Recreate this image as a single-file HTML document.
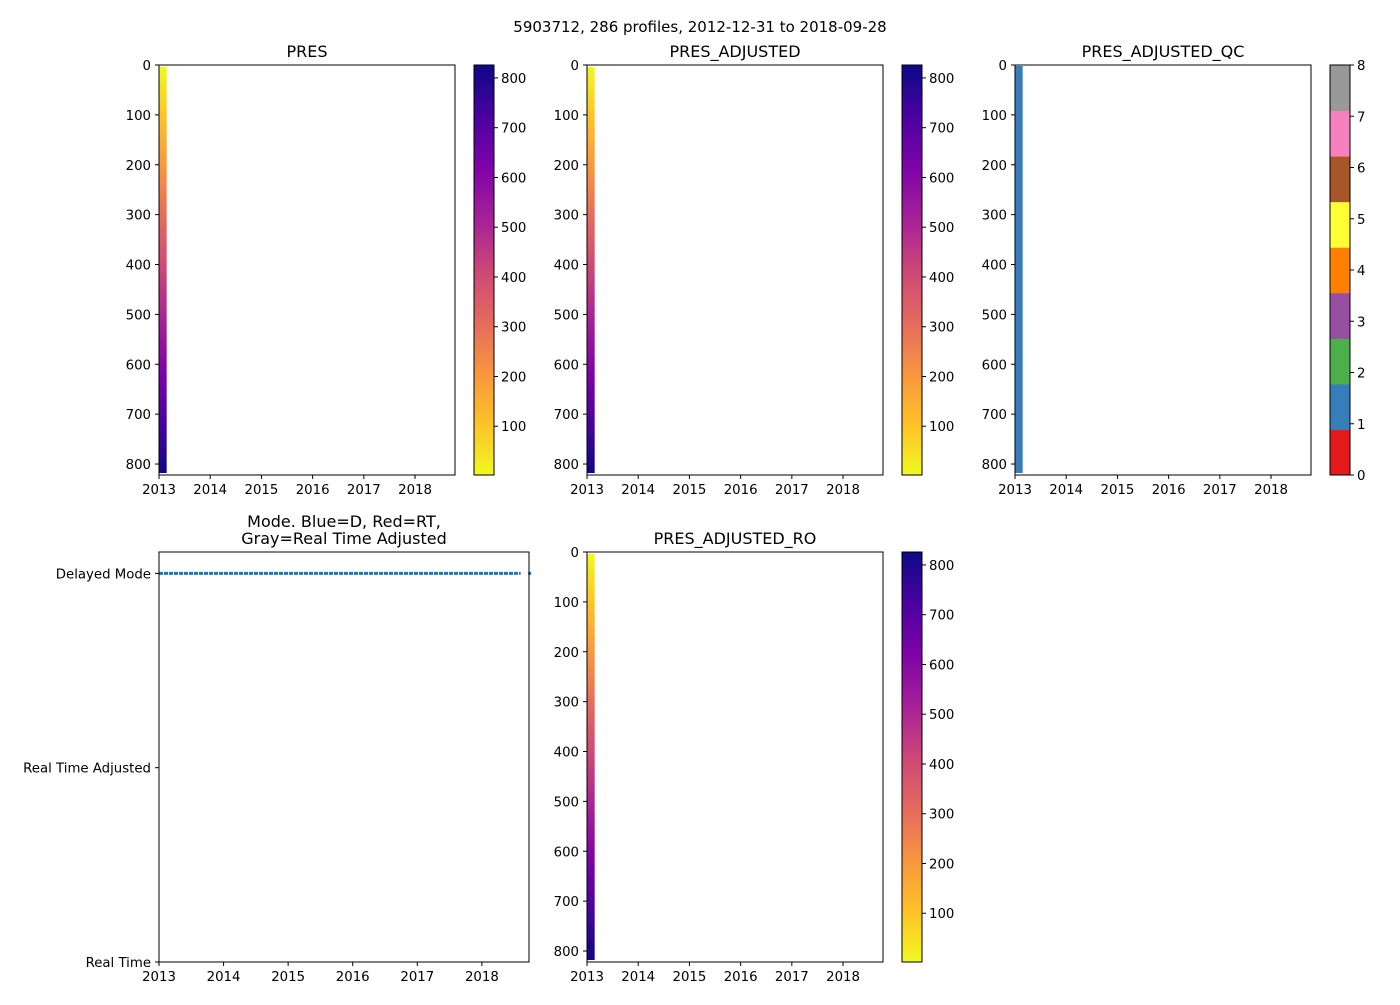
<!DOCTYPE html>
<html><head><meta charset="utf-8"><style>
body{margin:0;background:#fff;}
svg text{font-family:"DejaVu Sans","Liberation Sans",sans-serif;fill:#000;}
</style></head><body>
<svg id="fig" width="1400" height="1000" xmlns="http://www.w3.org/2000/svg">
<defs>
<linearGradient id="plasmaR" x1="0" y1="1" x2="0" y2="0">
<stop offset="0" stop-color="#f0f921"/><stop offset="0.12" stop-color="#fdc328"/>
<stop offset="0.25" stop-color="#f89540"/><stop offset="0.37" stop-color="#e56b5d"/>
<stop offset="0.5" stop-color="#cc4778"/><stop offset="0.62" stop-color="#a82296"/>
<stop offset="0.75" stop-color="#7e03a8"/><stop offset="0.87" stop-color="#4c02a1"/>
<stop offset="1" stop-color="#0d0887"/></linearGradient>
<linearGradient id="plasmaStrip" x1="0" y1="0" x2="0" y2="1">
<stop offset="0" stop-color="#f0f921"/><stop offset="0.12" stop-color="#fdc328"/>
<stop offset="0.25" stop-color="#f89540"/><stop offset="0.37" stop-color="#e56b5d"/>
<stop offset="0.5" stop-color="#cc4778"/><stop offset="0.62" stop-color="#a82296"/>
<stop offset="0.75" stop-color="#7e03a8"/><stop offset="0.87" stop-color="#4c02a1"/>
<stop offset="1" stop-color="#0d0887"/></linearGradient>
</defs>
<text x="700" y="32" font-size="15" text-anchor="middle">5903712, 286 profiles, 2012-12-31 to 2018-09-28</text>
<g id="root"></g>
</svg>
<script>
// data
const yearTicks = [2013, 2014, 2015, 2016, 2017, 2018];
const presTicks = [0, 100, 200, 300, 400, 500, 600, 700, 800];
const cbarTicks = [100, 200, 300, 400, 500, 600, 700, 800];
const qcTicks = [0, 1, 2, 3, 4, 5, 6, 7, 8];
const qcColors = ["#e41a1c", "#377eb8", "#4daf4a", "#984ea3", "#ff7f00", "#ffff33", "#a65628", "#f781bf", "#999999"];
const modeLabels = ["Real Time", "Real Time Adjusted", "Delayed Mode"];
const profileStart = [2013.0];
const profileEnd = [2013.15];
const profileMaxPres = [818];
const qcValue = [1];
const modeStartYear = [2013.0];
const modeEndYear = [2018.6];
const modeLastYear = [2018.74];
const modeValue = [2];

const NS = "http://www.w3.org/2000/svg";
const root = document.getElementById('root');
const TFS = 13.3;
function el(tag, attrs, parent, txt) {
  const e = document.createElementNS(NS, tag);
  for (const k in attrs) e.setAttribute(k, attrs[k]);
  if (txt !== undefined) e.textContent = txt;
  (parent || root).appendChild(e);
  return e;
}
const X0 = 2013, X1 = 2018.78, PMAX = 822;

function axesPanel(name, left, top, w, h) {
  const g = el('g', {});
  
  
  const xs = v => left + (v - X0) / (X1 - X0) * w;
  const ys = p => top + p / PMAX * h;
  return {g, xs, ys, left, top, w, h};
}
function drawFrame(P, yTicks, yfn, yLabelFn) {
  const {g, left, top, w, h, xs} = P;
  const fr = el('rect', {x: left, y: top, width: w, height: h, fill: 'none', stroke: '#000', 'stroke-width': 1}, g);
  
  
  yearTicks.forEach(t => {
    const x = xs(t);
    el('line', {x1: x, y1: top + h, x2: x, y2: top + h + 4, stroke: '#000'}, g);
    const tx = el('text', {x: x, y: top + h + 19, 'font-size': TFS, 'text-anchor': 'middle'}, g, String(t));
    
    
  });
  yTicks.forEach((t, i) => {
    const y = yfn(t);
    el('line', {x1: left - 4, y1: y, x2: left, y2: y, stroke: '#000'}, g);
    const tx = el('text', {x: left - 8, y: y + 5, 'font-size': TFS, 'text-anchor': 'end'}, g, yLabelFn ? yLabelFn(t, i) : String(t));
    
    
  });
}
function title(P, lines) {
  lines.forEach((s, i) => {
    const t = el('text', {x: P.left + P.w / 2, y: P.top - 8 - (lines.length - 1 - i) * 17, 'font-size': 16, 'text-anchor': 'middle'}, P.g, s);
    
    
  });
}
function colorbar(left, top, h) {
  const g = el('g', {});
  
  
  el('rect', {x: left, y: top, width: 20, height: h, fill: 'url(#plasmaR)', stroke: '#000'}, g);
  const vmin = 2, vmax = 826;
  cbarTicks.forEach(t => {
    const y = top + h - (t - vmin) / (vmax - vmin) * h;
    el('line', {x1: left + 20, y1: y, x2: left + 24, y2: y, stroke: '#000'}, g);
    const tx = el('text', {x: left + 27, y: y + 5, 'font-size': TFS}, g, String(t));
    
    
  });
}
function presPanel(name, left, top, ttl, cbLeft) {
  const P = axesPanel(name, left, top, 296, 410);
  profileStart.forEach((s, i) => {
    const r = el('rect', {x: P.xs(s), y: P.ys(4), width: P.xs(profileEnd[i]) - P.xs(s), height: P.ys(profileMaxPres[i]) - P.ys(4), fill: 'url(#plasmaStrip)'}, P.g);
    
    
  });
  drawFrame(P, presTicks, P.ys);
  title(P, [ttl]);
  if (cbLeft) colorbar(cbLeft, top, 410);
}
presPanel('pres', 159, 65, 'PRES', 474);
presPanel('pres-adjusted', 587, 65, 'PRES_ADJUSTED', 902);
presPanel('pres-adjusted-ro', 587, 552, 'PRES_ADJUSTED_RO', 902);

// QC panel
(function () {
  const P = axesPanel('pres-adjusted-qc', 1015, 65, 296, 410);
  profileStart.forEach((s, i) => {
    const r = el('rect', {x: P.xs(s), y: P.ys(2), width: P.xs(profileEnd[i]) - P.xs(s), height: P.ys(profileMaxPres[i]) - P.ys(2), fill: qcColors[qcValue[i]]}, P.g);
    
    
  });
  drawFrame(P, presTicks, P.ys);
  title(P, ['PRES_ADJUSTED_QC']);
  const g = el('g', {});
  
  
  const L = 1330, T = 65, H = 410, seg = H / 9;
  qcColors.forEach((c, i) => {
    el('rect', {x: L, y: T + H - (i + 1) * seg, width: 20, height: seg + 0.5, fill: c}, g);
  });
  el('rect', {x: L, y: T, width: 20, height: H, fill: 'none', stroke: '#000'}, g);
  qcTicks.forEach(t => {
    const y = T + H - t / 8 * H;
    el('line', {x1: L + 20, y1: y, x2: L + 24, y2: y, stroke: '#000'}, g);
    const tx = el('text', {x: L + 27, y: y + 5, 'font-size': TFS}, g, String(t));
    
    
  });
})();

// Mode panel
(function () {
  const left = 159, top = 552, w = 370, h = 410;
  const P = axesPanel('mode', left, top, w, h);
  P.xs = v => left + (v - X0) / (2018.73 - X0) * w;
  const ym = v => top + h - v / (modeLabels.length - 1 + 0.11) * h;
  modeStartYear.forEach((s, i) => {
    const ln = el('line', {x1: P.xs(s), y1: ym(modeValue[i]), x2: P.xs(modeEndYear[i]), y2: ym(modeValue[i]), stroke: '#1f77b4', 'stroke-width': 3, 'stroke-dasharray': '4 1'}, P.g);
    
    
    const c = el('rect', {x: P.xs(modeLastYear[i]) - 1.5, y: ym(modeValue[i]) - 1.5, width: 3, height: 3, fill: '#1f77b4'}, P.g);
    
    
  });
  drawFrame(P, [0, 1, 2], ym, (t, i) => modeLabels[i]);
  title(P, ['Mode. Blue=D, Red=RT,', 'Gray=Real Time Adjusted']);
})();
</script>
</body></html>
